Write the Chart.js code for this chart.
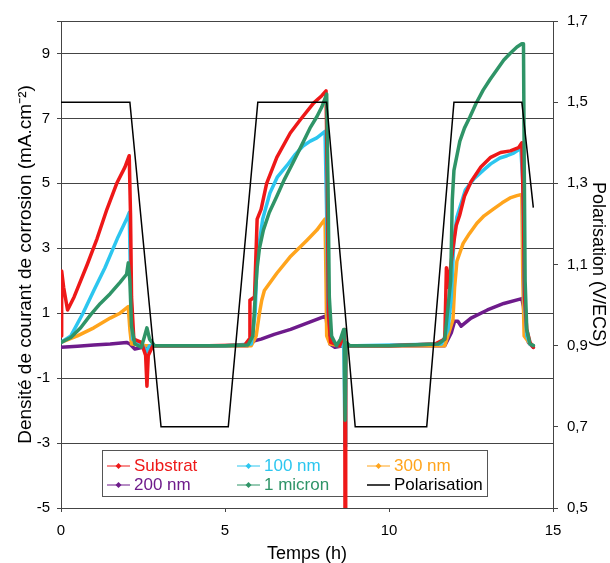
<!DOCTYPE html>
<html>
<head>
<meta charset="utf-8">
<script src="https://cdn.jsdelivr.net/npm/chart.js@4"></script>
<style>
  html, body { margin: 0; padding: 0; background: #fff; }
  #wrap { width: 610px; height: 563px; }
</style>
</head>
<body>
<div id="wrap"><canvas id="chart" width="610" height="563"></canvas></div>
<script>
// axis ticks
const timeTicks = [0, 5, 10, 15];
const currentTicks = [-5, -3, -1, 1, 3, 5, 7, 9];
const polarTicks = [0.5, 0.7, 0.9, 1.1, 1.3, 1.5, 1.7];

// Substrat
const substratT = [0, 0.02, 0.08, 0.2, 0.4, 0.8, 1.1, 1.4, 1.7, 1.95, 2.08, 2.12, 2.15, 2.22, 2.45, 2.58, 2.62, 2.66, 2.8, 3.5, 4.5, 5.6, 5.74, 5.76, 5.9, 5.95, 5.98, 6.1, 6.27, 6.58, 6.99, 7.29, 7.7, 7.95, 8.08, 8.12, 8.15, 8.22, 8.5, 8.62, 8.65, 8.66, 8.68, 9.0, 10, 11.4, 11.7, 11.75, 11.8, 11.95, 12.05, 12.15, 12.3, 12.5, 12.8, 13.1, 13.4, 13.7, 13.95, 14.05, 14.1, 14.13, 14.2, 14.3, 14.4];
const substratV = [0.3, 2.3, 1.8, 1.1, 1.5, 2.5, 3.3, 4.2, 5.0, 5.5, 5.85, 4.0, 1.5, 0.2, 0.1, -0.3, -1.25, -0.3, 0, 0, 0, 0.02, 0.2, 1.4, 1.5, 3.0, 3.9, 4.2, 5.0, 5.8, 6.55, 6.95, 7.47, 7.7, 7.85, 5.0, 1.0, 0.1, 0, 0.3, 0.5, -6, 0, 0, 0, 0.05, 0.2, 2.4, 1.8, 3.0, 3.7, 4.0, 4.6, 5.05, 5.5, 5.8, 5.95, 6.0, 6.1, 6.25, 4.0, 1.5, 0.5, 0.1, -0.05];

// 100 nm
const nm100T = [0, 0.3, 0.67, 1.0, 1.34, 1.74, 2.0, 2.08, 2.12, 2.18, 2.5, 2.6, 2.7, 3.5, 5.0, 5.8, 5.92, 5.97, 6.02, 6.15, 6.37, 6.6, 6.89, 7.15, 7.38, 7.6, 7.8, 8.05, 8.1, 8.14, 8.25, 8.55, 8.62, 8.66, 8.68, 9.0, 11.6, 11.8, 11.9, 11.98, 12.07, 12.33, 12.6, 12.87, 13.1, 13.38, 13.6, 13.8, 14.02, 14.08, 14.12, 14.2, 14.3, 14.4];
const nm100V = [0.1, 0.3, 1.0, 1.7, 2.4, 3.35, 3.9, 4.1, 2.0, 0.2, 0, -0.2, 0, 0, 0, 0.05, 1.0, 2.5, 3.0, 3.9, 4.7, 5.2, 5.55, 5.9, 6.15, 6.3, 6.4, 6.6, 4.0, 1.0, 0.1, 0, 0.2, -3.1, 0, 0, 0.05, 0.5, 1.5, 3.3, 3.96, 4.8, 5.15, 5.4, 5.6, 5.78, 5.85, 5.93, 6.08, 5.0, 1.5, 0.3, 0.05, 0];

// 300 nm
const nm300T = [0, 0.5, 1.0, 1.5, 1.8, 2.05, 2.1, 2.15, 2.6, 5.8, 5.95, 6.05, 6.12, 6.2, 6.58, 6.98, 7.5, 7.8, 8.05, 8.08, 8.1, 8.2, 8.5, 8.62, 8.65, 8.68, 11.7, 11.95, 12.0, 12.07, 12.26, 12.45, 12.68, 12.9, 13.17, 13.45, 13.69, 13.9, 14.05, 14.08, 14.12, 14.3, 14.4];
const nm300V = [0.1, 0.3, 0.55, 0.85, 1.0, 1.2, 0.5, 0.05, 0, 0, 0.3, 1.0, 1.4, 1.7, 2.23, 2.73, 3.25, 3.56, 3.9, 2.0, 0.3, 0.05, 0, 0.2, -1.5, 0, 0, 0.8, 1.8, 2.6, 3.15, 3.45, 3.77, 4.0, 4.2, 4.4, 4.55, 4.62, 4.66, 2.0, 0.3, 0.05, 0];

// 200 nm
const nm200T = [0, 0.5, 1.0, 1.5, 2.0, 2.1, 2.25, 2.5, 3.0, 5.0, 5.7, 5.9, 6.1, 6.5, 7.0, 7.6, 8.08, 8.12, 8.2, 8.35, 8.6, 11.7, 11.9, 12.0, 12.1, 12.2, 12.5, 13.0, 13.5, 14.05, 14.1, 14.15, 14.25, 14.4];
const nm200V = [-0.05, -0.02, 0.02, 0.05, 0.1, 0.05, -0.1, -0.05, 0, 0, 0, 0.15, 0.2, 0.35, 0.5, 0.73, 0.92, 0.5, 0.05, -0.05, 0, 0, 0.4, 0.75, 0.75, 0.6, 0.85, 1.1, 1.3, 1.45, 1.2, 0.5, 0.1, -0.05];

// 1 micron
const micronT = [0, 0.3, 0.6, 0.9, 1.2, 1.5, 1.8, 2.0, 2.05, 2.1, 2.15, 2.25, 2.45, 2.55, 2.62, 2.7, 2.85, 3.5, 5.0, 5.7, 5.85, 5.92, 5.98, 6.05, 6.17, 6.35, 6.58, 6.8, 7.08, 7.35, 7.59, 7.8, 7.95, 8.1, 8.14, 8.18, 8.25, 8.4, 8.52, 8.62, 8.64, 8.66, 8.69, 8.8, 10, 11.5, 11.7, 11.88, 11.93, 11.98, 12.08, 12.16, 12.3, 12.47, 12.65, 12.87, 13.08, 13.29, 13.5, 13.69, 13.9, 14.05, 14.1, 14.12, 14.15, 14.2, 14.3, 14.4];
const micronV = [0.1, 0.25, 0.55, 0.95, 1.3, 1.6, 1.95, 2.2, 2.55, 2.0, 0.6, 0.05, -0.05, 0.3, 0.55, 0.2, 0, 0, 0, 0.02, 0.3, 1.5, 2.4, 3.0, 3.56, 4.1, 4.6, 5.1, 5.65, 6.2, 6.7, 7.05, 7.35, 7.75, 5.0, 1.5, 0.3, 0, 0.2, 0.5, 0.5, -2.3, 0.1, 0, 0, 0.05, 0.2, 2.0, 4.5, 5.4, 5.9, 6.3, 6.7, 7.05, 7.45, 7.87, 8.2, 8.5, 8.8, 9.0, 9.2, 9.3, 9.3, 6.0, 2.0, 0.5, 0.05, 0];

// Polarisation (V/ECS)
const polarT = [0, 2.1, 3.05, 5.1, 6.0, 8.1, 8.97, 11.15, 11.98, 14.05, 14.4];
const polarV = [1.5, 1.5, 0.7, 0.7, 1.5, 1.5, 0.7, 0.7, 1.5, 1.5, 1.24];

const zip = (t, v) => t.map((x, i) => ({ x: x, y: v[i] }));

const font = 'Liberation Sans, Arial, sans-serif';

function series(label, t, v, color, order) {
  return {
    label: label,
    data: zip(t, v),
    borderColor: color,
    backgroundColor: color,
    borderWidth: 3.5,
    borderJoinStyle: 'round',
    borderCapStyle: 'round',
    pointRadius: 0,
    tension: 0,
    yAxisID: 'y',
    order: order
  };
}

const legendItems = [
  { label: 'Substrat', color: '#ee1818', marker: true },
  { label: '100 nm', color: '#2cc6ef', marker: true },
  { label: '300 nm', color: '#ffa41c', marker: true },
  { label: '200 nm', color: '#6e1b8b', marker: true },
  { label: '1 micron', color: '#2f9467', marker: true },
  { label: 'Polarisation', color: '#000000', marker: false }
];

// legend box drawn inside the plot, under the data
const boxLegend = {
  id: 'boxLegend',
  beforeDatasetsDraw(chart) {
    const ctx = chart.ctx;
    ctx.save();
    ctx.fillStyle = '#fff';
    ctx.fillRect(102, 450, 386, 47);
    ctx.strokeStyle = '#555';
    ctx.lineWidth = 1;
    ctx.strokeRect(102.5, 450.5, 385, 46);
    const cols = [107, 237, 367];
    const rows = [466, 485];
    ctx.font = '17px ' + font;
    ctx.textBaseline = 'middle';
    legendItems.forEach((it, i) => {
      const x = cols[i % 3];
      const y = rows[Math.floor(i / 3)];
      ctx.strokeStyle = it.color;
      ctx.lineWidth = it.marker ? 1 : 1.5;
      ctx.beginPath();
      ctx.moveTo(x, y);
      ctx.lineTo(x + 23, y);
      ctx.stroke();
      if (it.marker) {
        ctx.fillStyle = it.color;
        ctx.beginPath();
        ctx.moveTo(x + 11.5, y - 3);
        ctx.lineTo(x + 14.5, y);
        ctx.lineTo(x + 11.5, y + 3);
        ctx.lineTo(x + 8.5, y);
        ctx.closePath();
        ctx.fill();
      }
      ctx.fillStyle = it.color;
      ctx.fillText(it.label, x + 27, y);
    });
    ctx.restore();
  }
};

new Chart(document.getElementById('chart'), {
  type: 'line',
  data: {
    datasets: [
      series('Substrat', substratT, substratV, '#ee1818', 2),
      series('100 nm', nm100T, nm100V, '#2cc6ef', 3),
      series('300 nm', nm300T, nm300V, '#ffa41c', 4),
      series('200 nm', nm200T, nm200V, '#6e1b8b', 5),
      series('1 micron', micronT, micronV, '#2f9467', 1),
      {
        label: 'Polarisation',
        data: zip(polarT, polarV),
        borderColor: '#000',
        borderWidth: 1.5,
        pointRadius: 0,
        tension: 0,
        yAxisID: 'y2',
        order: 0
      }
    ]
  },
  options: {
    responsive: false,
    animation: false,
    layout: { padding: { top: 21, left: 0, right: 0, bottom: 0 } },
    plugins: { legend: { display: false }, tooltip: { enabled: false } },
    scales: {
      x: {
        type: 'linear',
        min: 0,
        max: 15,
        afterBuildTicks: s => { s.ticks = timeTicks.map(v => ({ value: v })); },
        afterFit: s => { s.height = 55; },
        ticks: { font: { family: font, size: 15 }, color: '#000', padding: 10, maxRotation: 0 },
        grid: { drawOnChartArea: false, tickLength: 4, color: '#444' },
        border: { color: '#444' },
        title: { display: true, text: 'Temps (h)', color: '#000', font: { family: font, size: 18, lineHeight: 1 }, padding: { top: 0, bottom: 0 } }
      },
      y: {
        position: 'left',
        min: -5,
        max: 10,
        afterBuildTicks: s => { s.ticks = currentTicks.concat([10]).map(v => ({ value: v })); },
        afterFit: s => { s.width = 61; },
        ticks: { font: { family: font, size: 15 }, color: '#000', padding: 7, callback: v => (v === 10 ? '' : v) },
        grid: { color: '#444', tickLength: 4 },
        border: { color: '#444' },
        title: { display: true, text: 'Densité de courant de corrosion (mA.cm⁻²)', color: '#000', font: { family: font, size: 19, lineHeight: 1 }, padding: { top: 16, bottom: 0 } }
      },
      y2: {
        position: 'right',
        min: 0.5,
        max: 1.7,
        afterBuildTicks: s => { s.ticks = polarTicks.map(v => ({ value: v })); },
        afterFit: s => { s.width = 57; },
        ticks: { font: { family: font, size: 15 }, color: '#000', padding: 9, callback: v => v.toFixed(1).replace('.', ',') },
        grid: { drawOnChartArea: false, tickLength: 5, color: '#444' },
        border: { color: '#444' },
        title: { display: true, text: 'Polarisation (V/ECS)', color: '#000', font: { family: font, size: 18, lineHeight: 1 }, padding: { top: 3, bottom: 0 } }
      }
    }
  },
  plugins: [boxLegend]
});
</script>
</body>
</html>
